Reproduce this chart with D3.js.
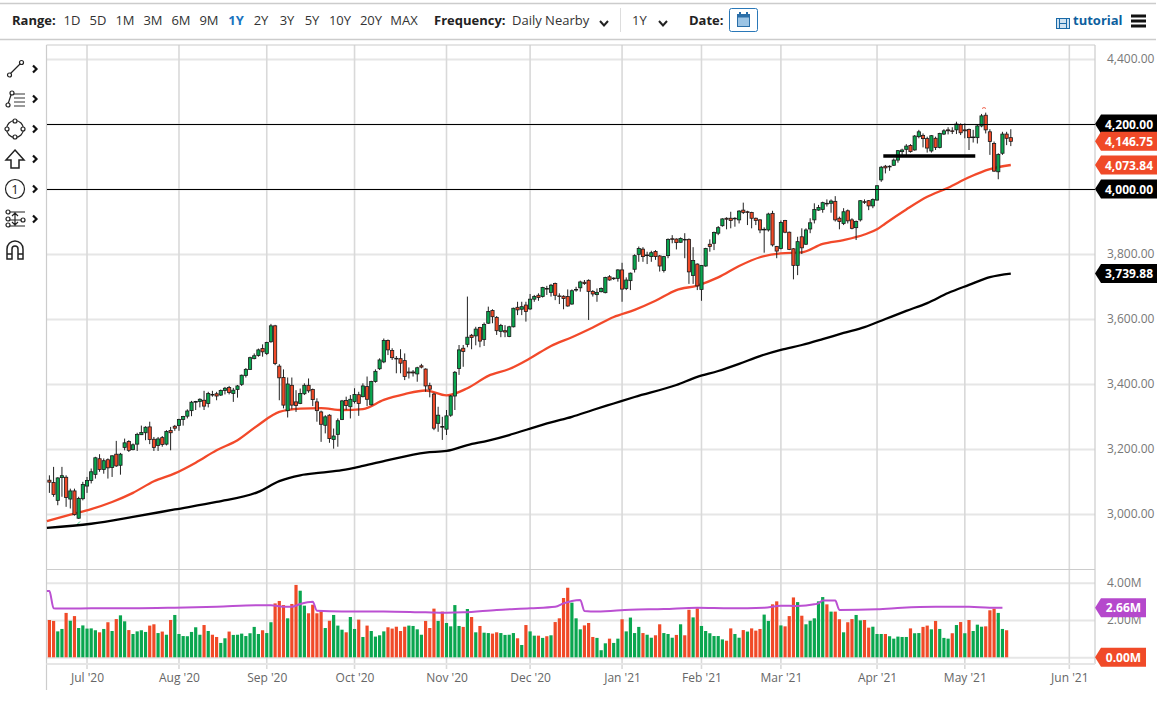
<!DOCTYPE html>
<html>
<head>
<meta charset="utf-8">
<script src="https://cdn.jsdelivr.net/npm/d3@7"></script>
<style>
  body { margin: 0; background: #fff; }
  svg { display: block; font-family: "Open Sans", sans-serif; }
  .domain { display: none; }
</style>
</head>
<body>
<svg id="chart" width="1166" height="706"></svg>
<script>
// open, high, low, close per trading day
const ohlc = [
[3104,3119,3065,3098],[3097,3145,3053,3060],[3042,3113,3027,3111],[3112,3145,3053,3118],[3113,3119,3022,3051],
[3046,3078,3017,3071],[3071,3078,2995,2998],[2987,3053,2985,3048],[3047,3099,3042,3091],[3086,3114,3065,3103],
[3103,3140,3094,3130],[3122,3176,3109,3173],[3170,3184,3130,3137],[3137,3171,3124,3164],[3167,3171,3109,3142],
[3143,3181,3114,3179],[3184,3225,3145,3148],[3150,3188,3121,3184],[3205,3232,3196,3219],[3223,3227,3191,3196],
[3198,3217,3196,3213],[3215,3250,3194,3245],[3244,3272,3243,3251],[3250,3270,3227,3267],[3268,3284,3215,3229],
[3230,3237,3194,3205],[3211,3237,3194,3231],[3235,3240,3207,3214],[3215,3258,3211,3254],[3257,3268,3196,3250],
[3270,3274,3256,3264],[3272,3293,3256,3291],[3291,3302,3272,3300],[3301,3322,3294,3317],[3318,3348,3301,3344],
[3344,3348,3320,3346],[3346,3356,3328,3353],[3350,3379,3320,3332],[3340,3376,3328,3371],[3368,3379,3361,3366],
[3370,3376,3350,3363],[3366,3383,3363,3380],[3380,3391,3368,3387],[3389,3394,3368,3374],[3371,3388,3345,3381],
[3383,3397,3358,3394],[3399,3429,3394,3427],[3426,3449,3420,3445],[3445,3484,3443,3481],[3478,3494,3476,3487],
[3488,3509,3484,3505],[3509,3522,3484,3499],[3494,3530,3489,3528],[3530,3585,3527,3579],[3579,3582,3458,3463],
[3455,3461,3350,3419],[3420,3445,3325,3335],[3318,3420,3297,3400],[3396,3420,3322,3335],[3345,3381,3314,3334],
[3340,3386,3338,3371],[3370,3402,3366,3396],[3396,3417,3373,3379],[3383,3386,3332,3352],[3345,3356,3284,3318],
[3314,3318,3222,3276],[3273,3304,3248,3299],[3304,3307,3219,3232],[3229,3263,3201,3240],[3245,3294,3207,3287],
[3291,3351,3289,3348],[3349,3361,3320,3334],[3330,3366,3294,3353],[3346,3387,3340,3368],[3367,3376,3302,3340],
[3361,3402,3359,3394],[3392,3423,3332,3353],[3336,3410,3334,3408],[3408,3445,3404,3439],[3447,3479,3443,3474],
[3468,3540,3464,3534],[3534,3537,3489,3505],[3503,3510,3474,3481],[3479,3486,3433,3477],[3478,3507,3433,3464],
[3472,3494,3412,3423],[3437,3451,3417,3434],[3437,3443,3423,3434],[3431,3453,3407,3450],[3456,3462,3448,3452],
[3446,3448,3376,3394],[3395,3404,3359,3384],[3369,3373,3258,3264],[3279,3330,3253,3304],[3269,3299,3228,3267],
[3261,3320,3243,3302],[3304,3366,3299,3363],[3363,3440,3320,3436],[3448,3520,3428,3505],[3510,3520,3453,3500],
[3522,3669,3513,3544],[3550,3554,3507,3543],[3548,3576,3519,3569],[3574,3576,3513,3532],[3537,3589,3517,3583],
[3587,3638,3585,3623],[3626,3630,3587,3607],[3605,3609,3551,3564],[3562,3585,3544,3580],[3564,3581,3544,3560],
[3546,3579,3544,3576],[3576,3635,3574,3633],[3636,3653,3612,3628],[3630,3653,3612,3638],[3643,3653,3592,3623],
[3631,3677,3628,3661],[3661,3674,3653,3669],[3673,3679,3656,3666],[3669,3699,3666,3697],[3694,3702,3674,3692],
[3682,3708,3669,3704],[3709,3712,3658,3673],[3671,3679,3646,3669],[3670,3673,3630,3663],[3669,3691,3638,3640],
[3646,3691,3644,3687],[3689,3699,3684,3691],[3696,3718,3684,3714],[3713,3720,3705,3709],[3719,3722,3597,3685],
[3685,3689,3669,3677],[3675,3694,3653,3682],[3684,3697,3682,3694],[3681,3730,3679,3728],[3730,3735,3718,3720],
[3726,3728,3720,3724],[3725,3753,3715,3751],[3751,3773,3653,3692],[3694,3728,3689,3720],[3718,3743,3689,3741],
[3753,3799,3743,3795],[3799,3823,3776,3817],[3815,3821,3776,3792],[3797,3807,3769,3795],[3792,3810,3776,3804],
[3808,3812,3782,3792],[3794,3797,3746,3763],[3749,3794,3743,3792],[3795,3848,3787,3845],[3847,3858,3833,3845],
[3846,3848,3814,3835],[3836,3851,3835,3848],[3845,3864,3787,3843],[3845,3848,3708,3745],[3734,3821,3708,3780],
[3769,3771,3689,3702],[3691,3766,3656,3765],[3763,3819,3761,3817],[3830,3845,3807,3823],[3833,3869,3812,3866],
[3864,3886,3858,3881],[3887,3910,3884,3908],[3910,3913,3876,3907],[3910,3930,3879,3903],[3910,3913,3884,3908],
[3905,3935,3894,3932],[3935,3958,3923,3928],[3930,3933,3889,3928],[3928,3930,3879,3910],[3910,3912,3889,3903],
[3905,3907,3864,3874],[3876,3882,3804,3874],[3874,3927,3869,3923],[3925,3933,3823,3828],[3823,3825,3787,3809],
[3817,3903,3814,3897],[3903,3905,3864,3867],[3867,3869,3812,3814],[3816,3818,3722,3765],[3765,3853,3735,3838],
[3853,3879,3800,3819],[3830,3879,3828,3874],[3877,3910,3864,3896],[3905,3956,3894,3937],[3935,3951,3933,3943],
[3937,3961,3927,3958],[3956,3968,3946,3954],[3956,3968,3927,3963],[3962,3978,3900,3905],[3910,3915,3876,3900],
[3894,3941,3889,3930],[3933,3937,3894,3902],[3905,3910,3876,3879],[3881,3903,3843,3900],[3905,3966,3900,3964],
[3961,3968,3954,3959],[3964,3966,3935,3948],[3948,3971,3941,3968],[3966,4012,3964,4010],[4028,4071,4022,4067],
[4070,4074,4048,4065],[4070,4073,4056,4068],[4073,4094,4071,4089],[4089,4120,4081,4118],[4115,4124,4105,4120],
[4122,4138,4105,4132],[4134,4138,4112,4115],[4120,4166,4118,4163],[4161,4182,4156,4176],[4165,4171,4128,4155],
[4155,4161,4112,4126],[4117,4166,4112,4164],[4156,4161,4120,4128],[4128,4173,4125,4171],[4169,4184,4166,4179],
[4182,4190,4168,4179],[4179,4190,4169,4177],[4182,4207,4169,4200],[4198,4202,4166,4173],[4182,4202,4156,4179],
[4183,4186,4120,4158],[4160,4182,4143,4158],[4158,4197,4140,4194],[4194,4231,4190,4225],[4227,4235,4171,4182],
[4176,4184,4105,4146],[4140,4146,4053,4055],[4053,4110,4030,4106],[4110,4176,4105,4169],[4169,4176,4135,4156],
[4158,4184,4132,4146.75]
]

// moving averages, read every few sessions
const ma50Days = [-0.6,5,10,15,20,25,30,35,40,45,50,55,60,65,70,75,80,85,90,95,100,105,110,115,120,125,130,135,140,145,150,155,160,165,170,175,180,185,190,195,198,200,205,210,215,220,225,230]
const ma50 = [2978,2998,3015,3037,3065,3101,3125,3158,3196,3227,3274,3314,3324,3326,3320,3323,3351,3369,3380,3365,3387,3425,3446,3479,3517,3544,3574,3606,3628,3656,3689,3703,3728,3763,3790,3802,3805,3831,3843,3860,3876,3894,3937,3976,4004,4036,4061,4073.84]
const ma200Days = [-0.6,10,20,30,40,50,55,60,65,70,75,81,90,95,100,105,110,115,120,125,130,135,140,150,155,160,165,170,175,180,185,190,195,200,205,210,215,220,225,230]
const ma200 = [2957,2970,2991,3014,3037,3068,3101,3119,3127,3135,3148,3166,3189,3194,3212,3226,3243,3263,3282,3299,3320,3340,3360,3397,3422,3440,3462,3486,3505,3520,3538,3557,3575,3600,3625,3649,3680,3705,3729,3739.88]

// volume in millions
const volumes = [
2.00,1.95,1.39,1.52,2.38,1.96,2.21,1.57,1.71,1.54,1.55,1.45,1.34,1.52,1.88,1.41,2.05,2.25,1.93,1.46,
1.25,1.39,1.45,1.36,1.70,1.77,1.30,1.38,1.21,2.00,2.27,1.25,1.14,1.13,1.36,1.61,1.21,1.73,1.41,1.21,
1.09,0.77,1.02,1.38,1.20,1.21,1.27,1.14,1.29,1.63,1.25,1.45,1.30,1.88,2.89,3.02,2.80,2.09,2.86,3.88,
3.57,2.77,2.36,2.82,2.36,2.46,1.57,1.96,2.27,1.70,1.48,1.34,2.16,1.52,2.02,1.09,1.70,1.41,1.11,1.18,
1.39,1.61,1.54,1.64,1.41,1.64,1.70,1.68,1.50,1.21,1.95,1.57,2.61,1.95,
2.45,1.84,1.66,2.80,1.68,1.63,2.59,2.16,1.34,1.68,1.32,1.30,1.27,1.34,1.30,1.20,1.21,1.30,1.02,0.66,
1.73,1.39,1.16,1.16,1.04,1.13,1.18,1.89,2.09,3.18,3.73,2.93,2.09,1.50,1.71,1.84,1.09,1.04,0.38,0.75,
1.00,0.77,1.00,2.04,1.39,2.13,1.30,1.63,1.30,1.21,1.05,1.18,1.77,1.30,1.25,1.05,1.20,1.77,1.18,2.55,
2.14,2.63,1.68,1.41,1.29,1.14,1.14,0.96,0.89,1.55,1.25,1.05,1.46,1.38,1.55,1.43,1.52,2.29,1.95,2.84,
3.00,1.71,1.66,2.21,3.21,2.96,2.23,1.77,1.96,2.09,3.00,3.23,2.84,
2.45,2.45,2.04,1.34,1.88,2.05,2.27,1.98,2.00,1.59,1.64,1.25,1.25,1.25,1.13,1.00,1.11,1.09,1.09,1.55,
1.29,1.30,1.63,1.70,1.50,1.95,1.52,1.04,1.00,1.29,1.73,1.89,1.29,2.00,1.41,1.75,1.64,1.66,2.52,2.61,2.38,1.52,1.45
]
const volumeDirs = ('rrggrgrggg'+'ggrgrgrggr'+'ggggrrgrgr'+'gggggggrgr'+'rggrgggggg'+'grggrrrgrr'+'ggrrrrgrgg'+'grggrgrggg'+'grrrrrgggg'+'rrrg'
  +'rggggrgrgr'+'ggrrggggrg'+'rggrgrgrrr'+'rgggrrrggg'+'rggrggggrg'+'grrgggrgrr'+'grggggggrr'+'ggrgrrrggr'+'rgrrrgrggg'+'ggr'
  +'grrgrrggrr'+'gggrgggggr'+'ggrrgrgggr'+'grgrgggrrrggr').split('')
const avgVolDays = [-0.6,0,1,2,5,10,20,30,40,50,53,56,58,60,63,64,70,80,90,95,99,107,115,121,123,125,127,128,131,139,147,155,163,171,175,179,183,184,185,188,189,198,204,212,220,225,228]
const avgVol = [3.55,3.55,2.63,2.61,2.61,2.63,2.63,2.66,2.71,2.79,2.79,2.71,2.71,2.86,2.98,2.50,2.46,2.46,2.41,2.39,2.41,2.54,2.63,2.71,2.89,3.02,3.07,2.48,2.45,2.55,2.59,2.66,2.63,2.66,2.77,2.75,2.84,2.89,3.05,3.04,2.54,2.57,2.66,2.71,2.71,2.66,2.66]

const priceTicks = [3000,3200,3400,3600,3800,4000,4200,4400]
const volumeTicks = [0,2,4]
const monthDays = [9,31,52,73,95,115,137,156,175,198,219,244]
const monthLabels = ["Jul '20","Aug '20","Sep '20","Oct '20","Nov '20","Dec '20","Jan '21","Feb '21","Mar '21","Apr '21","May '21","Jun '21"]

const hLines = [4200,4000]
const supportLine = {from: 199.5, to: 221.5, price: 4101.5}
const priceBadges = [
  {value: 4200, color: '#000'},
  {value: 4146.75, color: '#f04a28'},
  {value: 4073.84, color: '#f04a28'},
  {value: 4000, color: '#000'},
  {value: 3739.88, color: '#000'}
]
const volumeBadges = [
  {value: 2.66, color: '#b548cc', w: 51},
  {value: 0, color: '#f04a28', w: 51}
]
const rangeLabels = ['1D','5D','1M','3M','6M','9M','1Y','2Y','3Y','5Y','10Y','20Y','MAX']
const rangeCenters = [72,98,125,153,181,209,236,261,287,312,340,371,404]

const plotLeft = 46.5
const plotRight = 1095
const plotTop = 45
const green = '#0aa64f'
const red = '#f04a28'
const gridH = '#e6e6e6'
const gridV = '#d9d9d9'

const svg = d3.select('#chart')

const x = d3.scaleLinear().domain([0, 230]).range([49.4, 1010.8])
const y = d3.scaleLinear().domain([3000, 4400]).range([514, 59])
const yVol = d3.scaleLinear().domain([0, 4]).range([657.3, 582.7])

function drawToolbar() {
  const bar = svg.append('g').attr('font-size', 13).attr('fill', '#222')
  ;[3.5, 39.5].forEach((ly) => {
    bar.append('line').attr('x1', 0).attr('x2', 1156).attr('y1', ly).attr('y2', ly)
      .attr('stroke', '#ccc').attr('stroke-width', 1.5)
  })
  const label = (s, lx, weight, fill, anchor) => bar.append('text')
    .attr('x', lx).attr('y', 24.5).text(s)
    .attr('font-weight', weight || 400).attr('fill', fill || '#222')
    .attr('text-anchor', anchor || 'start')
  label('Range:', 12, 700)
  rangeLabels.forEach((s, i) => {
    const active = s === '1Y'
    label(s, rangeCenters[i], active ? 700 : 400, active ? '#1b74c0' : '#333', 'middle')
  })
  label('Frequency:', 434, 700)
  label('Daily Nearby', 512, 400, '#333')
  label('1Y', 632, 400, '#333')
  label('Date:', 689, 700)
  ;[604, 663].forEach((cx) => {
    bar.append('path').attr('d', `M${cx - 4},21 L${cx},25.5 L${cx + 4},21`)
      .attr('fill', 'none').attr('stroke', '#222').attr('stroke-width', 2)
  })
  bar.append('line').attr('x1', 620.5).attr('x2', 620.5).attr('y1', 8).attr('y2', 32).attr('stroke', '#ddd')

  // calendar button
  const cal = bar.append('g')
  cal.append('rect').attr('x', 729.5).attr('y', 8.5).attr('width', 28).attr('height', 23).attr('rx', 2)
    .attr('fill', '#fff').attr('stroke', '#2a78b8')
  cal.append('rect').attr('x', 737.5).attr('y', 14.5).attr('width', 12).attr('height', 12).attr('fill', '#9cc4e4').attr('stroke', '#2a6ea8')
  cal.append('rect').attr('x', 737.5).attr('y', 14.5).attr('width', 12).attr('height', 3).attr('fill', '#2a6ea8')
  ;[740, 747].forEach((cx) => cal.append('rect').attr('x', cx - 1).attr('y', 12).attr('width', 2).attr('height', 4).attr('fill', '#2a6ea8'))

  // tutorial link
  const film = bar.append('g').attr('fill', 'none').attr('stroke', '#1a6aa8')
  film.append('rect').attr('x', 1056.5).attr('y', 18.5).attr('width', 13).attr('height', 10).attr('fill', '#cfe2f1')
  ;[1059.5, 1066.5].forEach((fx) => film.append('line').attr('x1', fx).attr('x2', fx).attr('y1', 18).attr('y2', 29))
  film.append('line').attr('x1', 1060).attr('x2', 1066).attr('y1', 23.5).attr('y2', 23.5)
  label('tutorial', 1073, 700, '#0d5f9e')
  ;[16, 21, 26].forEach((hy) => {
    bar.append('rect').attr('x', 1131).attr('y', hy - 1.5).attr('width', 15).attr('height', 3).attr('fill', '#111')
  })
}

function drawTools() {
  const tools = svg.append('g').attr('fill', 'none').attr('stroke', '#222').attr('stroke-width', 1.2)
  const rows = [69, 99, 129, 159, 189, 219]
  rows.forEach((ry) => {
    tools.append('path').attr('d', `M33,${ry - 3.5} L36.5,${ry} L33,${ry + 3.5}`)
      .attr('stroke', '#111').attr('stroke-width', 2.2)
  })
  const dot = (cx, cy) => tools.append('circle').attr('cx', cx).attr('cy', cy).attr('r', 2).attr('fill', '#fff')
  // trend line
  tools.append('path').attr('d', 'M10,74 L21,63'); dot(9.5, 75); dot(21.5, 62.5)
  // fib lines
  tools.append('path').attr('d', 'M8,104 L12,92')
  ;[94, 98, 102, 106].forEach((ly) => tools.append('line').attr('x1', 14).attr('x2', 25).attr('y1', ly).attr('y2', ly).attr('stroke', '#555'))
  dot(12, 93); dot(8, 105)
  // shape
  tools.append('circle').attr('cx', 15).attr('cy', 129).attr('r', 8.5)
  dot(15, 121); dot(7, 129); dot(23, 129); dot(15, 137)
  // arrow
  tools.append('path').attr('d', 'M15,150 L24,160 L19,160 L19,168 L11,168 L11,160 L6,160 Z').attr('stroke-width', 1.5)
  // number
  tools.append('circle').attr('cx', 15).attr('cy', 189).attr('r', 9.5)
  tools.append('text').attr('x', 15).attr('y', 194).attr('text-anchor', 'middle')
    .attr('font-size', 13).attr('fill', '#222').attr('stroke', 'none').text('1')
  // measure
  tools.append('path').attr('d', 'M8,212 L25,212 M8,226 L25,226 M15,213 L15,225 M12,216 L15,213 L18,216 M12,222 L15,225 L18,222 M8,220 L22,220')
  dot(8, 212); dot(8, 219); dot(8, 225); dot(23, 220)
  // magnet
  tools.append('path').attr('d', 'M7,259 L7,249 A8,8 0 0 1 23,249 L23,259 L18,259 L18,249 A3,3 0 0 0 12,249 L12,259 Z M7,254 L12,254 M18,254 L23,254')
    .attr('stroke-width', 1.5)
}

function drawGrid() {
  const priceAxis = d3.axisRight(y)
    .tickValues(priceTicks)
    .tickFormat(d3.format(',.2f'))
    .tickSize(-(plotRight - plotLeft))
    .tickPadding(12)
  const gp = svg.append('g').attr('transform', `translate(${plotRight},0)`).call(priceAxis)
  const volAxis = d3.axisRight(yVol)
    .tickValues(volumeTicks)
    .tickFormat((d) => d3.format('.2f')(d) + 'M')
    .tickSize(-(plotRight - plotLeft))
    .tickPadding(12)
  const gv = svg.append('g').attr('transform', `translate(${plotRight},0)`).call(volAxis)
  ;[gp, gv].forEach((g) => {
    g.selectAll('line').attr('stroke', gridH).attr('stroke-width', 2)
    g.selectAll('text').attr('fill', '#777').attr('font-size', 12).attr('font-family', '"Open Sans", sans-serif')
  })
  // these ticks sit under a badge that carries the same number
  gp.selectAll('.tick').filter((d) => hLines.includes(d)).select('text').remove()
  gv.selectAll('.tick').filter((d) => d === 0).select('text').remove()

  const timeAxis = d3.axisBottom(x)
    .tickValues(monthDays)
    .tickFormat((d, i) => monthLabels[i])
    .tickSize(0)
  const gt = svg.append('g').attr('transform', 'translate(0,669)').call(timeAxis)
  gt.selectAll('text').attr('y', 3).attr('dy', '0.85em').attr('fill', '#666')
    .attr('font-size', 12).attr('font-family', '"Open Sans", sans-serif')
  monthDays.forEach((d) => {
    svg.append('line').attr('x1', x(d)).attr('x2', x(d)).attr('y1', plotTop).attr('y2', 669)
      .attr('stroke', gridV).attr('stroke-width', 1.6)
  })

  // panel frame
  const frame = svg.append('g').attr('stroke', '#ccc').attr('stroke-width', 1.2)
  frame.append('line').attr('x1', plotLeft).attr('x2', plotRight).attr('y1', plotTop).attr('y2', plotTop)
  frame.append('line').attr('x1', plotLeft).attr('x2', plotRight).attr('y1', 569.5).attr('y2', 569.5)
  frame.append('line').attr('x1', plotLeft).attr('x2', plotLeft).attr('y1', plotTop).attr('y2', 690)
  frame.append('line').attr('x1', plotRight).attr('x2', plotRight).attr('y1', plotTop).attr('y2', 664)
  svg.append('line').attr('x1', plotLeft).attr('x2', plotRight).attr('y1', 664).attr('y2', 664)
    .attr('stroke', gridH).attr('stroke-width', 2)
}

function drawVolume() {
  svg.append('g').selectAll('rect').data(volumes).join('rect')
    .attr('x', (d, i) => x(i) - 1.6)
    .attr('width', 3.2)
    .attr('y', (d) => yVol(d))
    .attr('height', (d) => yVol(0) - yVol(d))
    .attr('fill', (d, i) => volumeDirs[i] === 'g' ? green : red)
  const line = d3.line()
    .x((d, i) => x(avgVolDays[i]))
    .y((d) => yVol(d))
    .curve(d3.curveMonotoneX)
  svg.append('path').attr('d', line(avgVol))
    .attr('fill', 'none').attr('stroke', '#bb50d2').attr('stroke-width', 2)
}

function drawAverages() {
  const line = (days) => d3.line()
    .x((d, i) => x(days[i]))
    .y((d) => y(d))
    .curve(d3.curveMonotoneX)
  svg.append('path').attr('d', line(ma50Days)(ma50))
    .attr('fill', 'none').attr('stroke', '#f2492a').attr('stroke-width', 2.3)
  svg.append('path').attr('d', line(ma200Days)(ma200))
    .attr('fill', 'none').attr('stroke', '#000').attr('stroke-width', 2.3)
}

function drawCandles() {
  const candle = svg.append('g').selectAll('g').data(ohlc).join('g')
  candle.append('line')
    .attr('x1', (d, i) => x(i)).attr('x2', (d, i) => x(i))
    .attr('y1', (d) => y(d[1])).attr('y2', (d) => y(d[2]))
    .attr('stroke', '#222').attr('stroke-width', 1)
  candle.append('rect')
    .attr('x', (d, i) => x(i) - 1.6)
    .attr('width', 3.2)
    .attr('y', (d) => y(Math.max(d[0], d[3])))
    .attr('height', (d) => Math.abs(y(d[0]) - y(d[3])))
    .attr('fill', (d) => d[3] >= d[0] ? green : red)
    .attr('stroke', '#1a1a1a').attr('stroke-width', 0.8)
}

function drawOverlays() {
  hLines.forEach((p) => {
    svg.append('line').attr('x1', plotLeft).attr('x2', plotRight).attr('y1', y(p)).attr('y2', y(p))
      .attr('stroke', '#000').attr('stroke-width', 1).attr('shape-rendering', 'crispEdges')
  })
  svg.append('line')
    .attr('x1', x(supportLine.from)).attr('x2', x(supportLine.to))
    .attr('y1', y(supportLine.price)).attr('y2', y(supportLine.price))
    .attr('stroke', '#000').attr('stroke-width', 3.4)
  // stray chart markers
  svg.append('path').attr('d', 'M982,108.5 Q984,106.5 986,108.5').attr('fill', 'none').attr('stroke', '#f0604a')
  svg.append('path').attr('d', 'M77.5,524 L80,521.5').attr('fill', 'none').attr('stroke', '#35c07a')
}

function drawBadge(scale, fmt) {
  return ({value, color, w = 62}) => {
    const cy = scale(value)
    const g = svg.append('g')
    g.append('path')
      .attr('d', `M${plotRight},${cy} L${plotRight + 6},${cy - 9.5} L${plotRight + w},${cy - 9.5} L${plotRight + w},${cy + 9.5} L${plotRight + 6},${cy + 9.5} Z`)
      .attr('fill', color)
    g.append('text').attr('x', plotRight + 6 + (w - 6) / 2).attr('y', cy + 4.5)
      .attr('text-anchor', 'middle').attr('fill', '#fff')
      .attr('font-size', 12).attr('font-weight', 700).text(fmt(value))
  }
}

drawToolbar()
drawTools()
drawGrid()
drawVolume()
drawAverages()
drawCandles()
drawOverlays()
priceBadges.forEach(drawBadge(y, d3.format(',.2f')))
volumeBadges.forEach(drawBadge(yVol, (v) => d3.format('.2f')(v) + 'M'))
</script>
</body>
</html>
